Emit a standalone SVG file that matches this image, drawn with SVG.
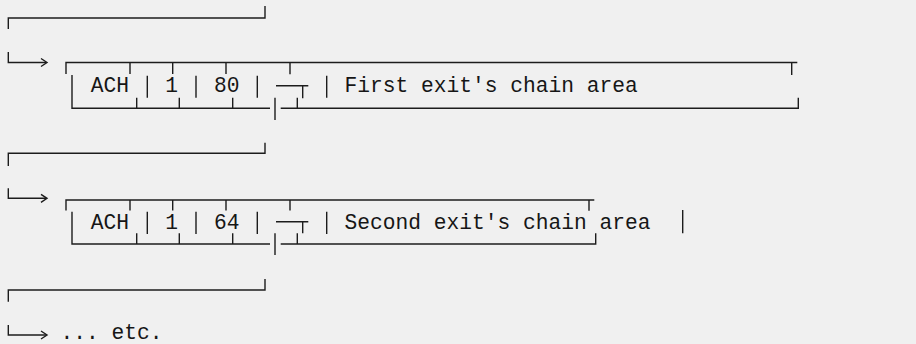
<svg xmlns="http://www.w3.org/2000/svg" width="916" height="344" viewBox="0 0 916 344">
<style>
.ln{stroke:#1c1c1c;stroke-width:1.4;fill:none;stroke-linecap:butt}
.ah{stroke:#1c1c1c;stroke-width:1.4;fill:none;stroke-linejoin:miter}
.t{font-family:"Liberation Mono","DejaVu Sans Mono",monospace;font-size:21.25px;fill:#161616}
</style>
<rect width="916" height="344" fill="#f0f0f0"/>
<g id="connectors">
<path class="ln" d="M8.3,29 V18 H265 V6"/>
<path class="ln" d="M8.3,52 V62.5 H46"/>
<path class="ah" d="M41,58.5 L47,62.5 L41,66.5"/>
<path class="ln" d="M8.3,166 V153.3 H265 V142.7"/>
<path class="ln" d="M8.3,188.3 V198.3 H46"/>
<path class="ah" d="M41,194.3 L47,198.3 L41,202.3"/>
<path class="ln" d="M8.3,301.7 V290 H265 V279"/>
<path class="ln" d="M8.3,325 V335 H46"/>
<path class="ah" d="M41,331 L47,335 L41,339"/>
</g>
<g id="row1">
<path class="ln" d="M66,74 V62.5 H797.3 M791.7,62.5 V75 M130,62.5 V74 M172.7,62.5 V74 M226,62.5 V74 M290,62.5 V74.3 M72,75 V108.3 H270 M280.7,108.3 H798.3 V97.7 M136.7,97.7 V108.3 M179.3,97.7 V108.3 M232.7,97.7 V108.3 M297.3,97.7 V108.3 M275,97.7 V120 M276,85.7 H308.3 M302.7,85.7 V98.3 M147.3,75.7 V97.7 M196,75.7 V97.7 M257.3,75.7 V97.7 M326.7,75.7 V97.7"/>
<text class="t" x="110" y="92.3" text-anchor="middle">ACH</text>
<text class="t" x="171.7" y="92.3" text-anchor="middle">1</text>
<text class="t" x="226.7" y="92.3" text-anchor="middle">80</text>
<text class="t" x="344.5" y="92.3">First exit's chain area</text>
</g>
<g id="row2">
<path class="ln" d="M66,210.5 V200 H594.3 M589,200 V210.7 M130,200 V210.5 M172.7,200 V210.5 M226,200 V210.5 M290,200 V210.5 M72,211.7 V244 H270 M280.7,244 H595.7 V233.3 M136.7,233.3 V244 M179.3,233.3 V244 M232.7,233.3 V244 M297.3,233.3 V244 M275,233.3 V255 M276,221.7 H308.3 M302.7,221.7 V233.3 M147.3,211.7 V234 M196,211.7 V234 M257.3,211.7 V234 M326.7,211.7 V234 M682.7,210 V233.3"/>
<text class="t" x="110" y="229.3" text-anchor="middle">ACH</text>
<text class="t" x="171.7" y="229.3" text-anchor="middle">1</text>
<text class="t" x="226.7" y="229.3" text-anchor="middle">64</text>
<text class="t" x="344.5" y="229.3">Second exit's chain area</text>
</g>
<g id="row3">
<text class="t" x="60.5" y="339">... etc.</text>
</g>
</svg>
